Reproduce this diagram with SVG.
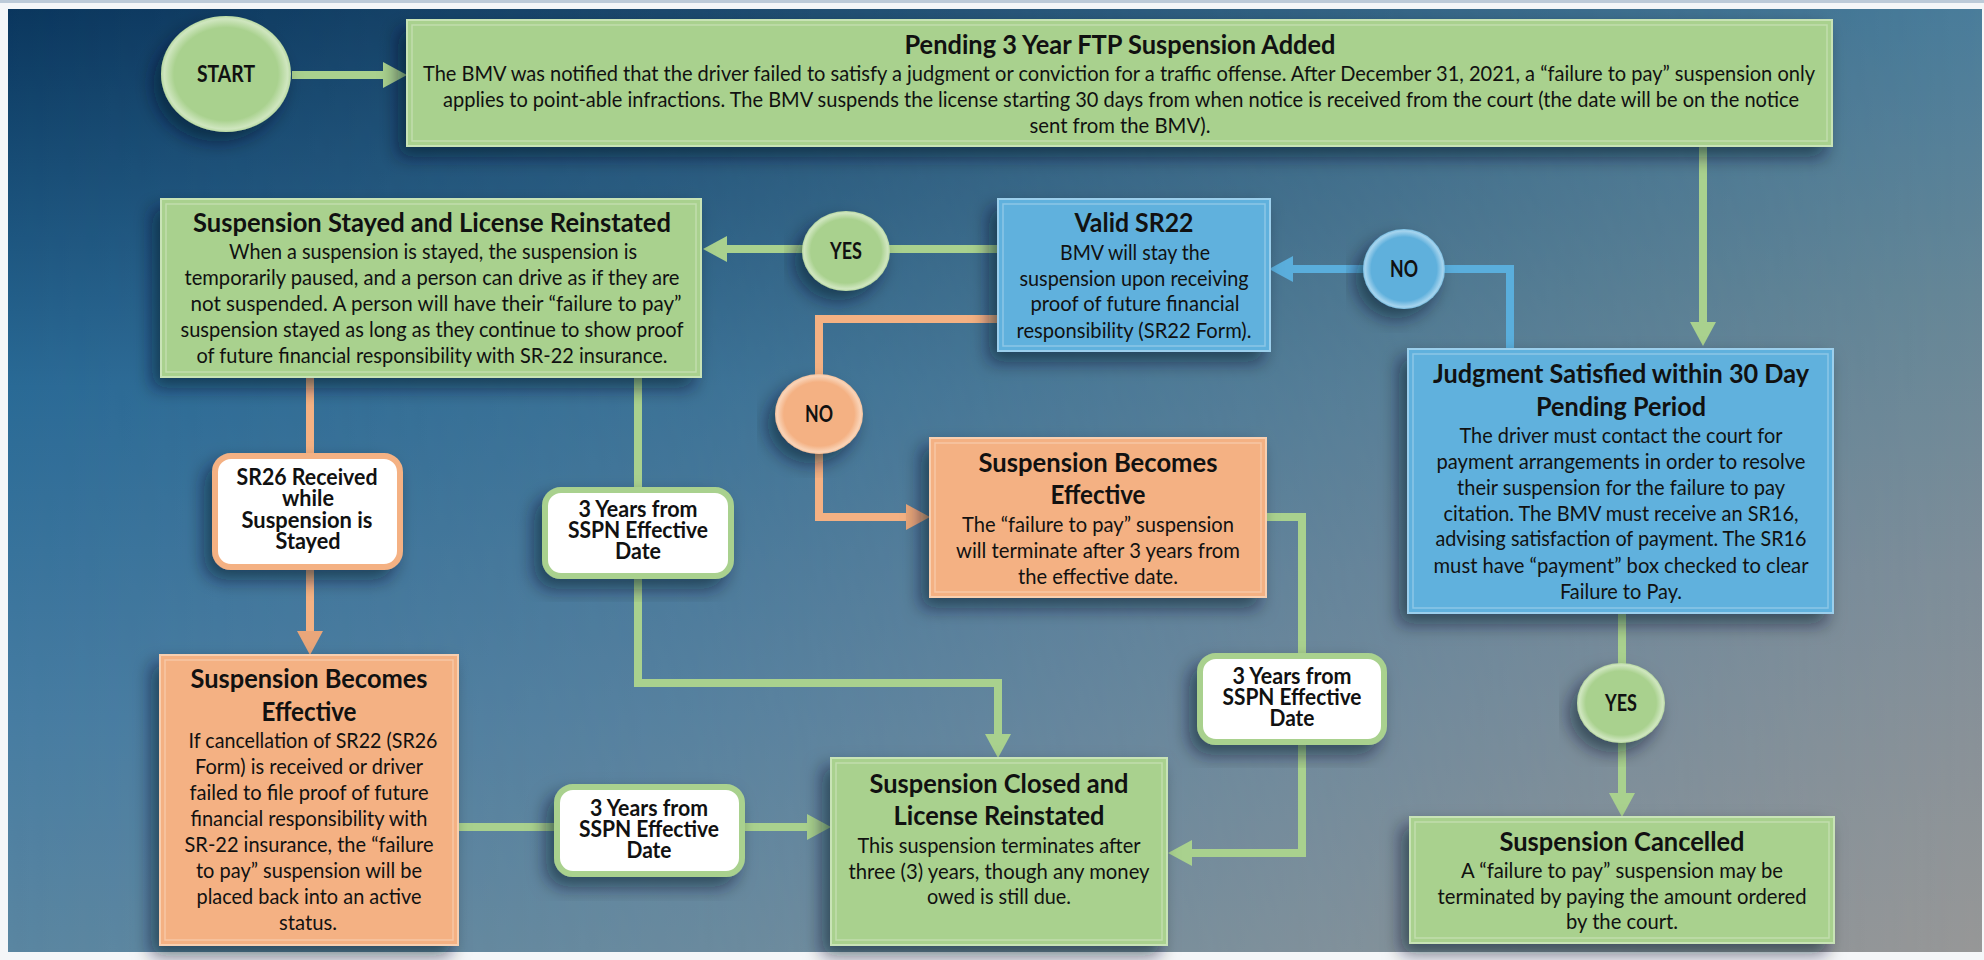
<svg xmlns="http://www.w3.org/2000/svg" width="1984" height="960" viewBox="0 0 1984 960">
<defs>
  <linearGradient id="bgL" x1="0" y1="0" x2="0" y2="1">
    <stop offset="0" stop-color="#0b375e"/>
    <stop offset="0.4" stop-color="#2a6a96"/>
    <stop offset="0.75" stop-color="#467ca2"/>
    <stop offset="1" stop-color="#5a86a1"/>
  </linearGradient>
  <linearGradient id="bgR" x1="0" y1="0" x2="0" y2="1">
    <stop offset="0" stop-color="#4a7d9b"/>
    <stop offset="0.3" stop-color="#668797"/>
    <stop offset="0.6" stop-color="#7f8e99"/>
    <stop offset="1" stop-color="#979797"/>
  </linearGradient>
  <linearGradient id="fadeX" x1="0" y1="0" x2="1" y2="0">
    <stop offset="0" stop-color="#000"/>
    <stop offset="0.35" stop-color="#444"/>
    <stop offset="1" stop-color="#fff"/>
  </linearGradient>
  <mask id="mx" maskUnits="userSpaceOnUse" x="0" y="0" width="1984" height="960">
    <rect x="0" y="0" width="1984" height="960" fill="url(#fadeX)"/>
  </mask>
  <radialGradient id="gGreen" cx="0.5" cy="0.5" r="0.5">
    <stop offset="0.8" stop-color="#a9d18e"/>
    <stop offset="0.95" stop-color="#cfe6bf"/>
    <stop offset="1" stop-color="#b8d9a2"/>
  </radialGradient>
  <radialGradient id="gBlue" cx="0.5" cy="0.5" r="0.5">
    <stop offset="0.8" stop-color="#5fb0dc"/>
    <stop offset="0.95" stop-color="#a6d4ee"/>
    <stop offset="1" stop-color="#7cc0e4"/>
  </radialGradient>
  <radialGradient id="gOrange" cx="0.5" cy="0.5" r="0.5">
    <stop offset="0.8" stop-color="#f4b183"/>
    <stop offset="0.95" stop-color="#f9d3b7"/>
    <stop offset="1" stop-color="#f6c19b"/>
  </radialGradient>
  <filter id="sh" x="-20%" y="-20%" width="140%" height="150%">
    <feDropShadow dx="-8" dy="10" stdDeviation="9" flood-color="#06182a" flood-opacity="0.55"/>
  </filter>
  <marker id="mG" markerUnits="userSpaceOnUse" markerWidth="24" markerHeight="26" viewBox="0 0 24 26" refX="0" refY="13" orient="auto">
    <path d="M0,0 L24,13 L0,26 Z" fill="#a9d18e"/>
  </marker>
  <marker id="mO" markerUnits="userSpaceOnUse" markerWidth="24" markerHeight="26" viewBox="0 0 24 26" refX="0" refY="13" orient="auto">
    <path d="M0,0 L24,13 L0,26 Z" fill="#e9a67a"/>
  </marker>
  <marker id="mB" markerUnits="userSpaceOnUse" markerWidth="24" markerHeight="26" viewBox="0 0 24 26" refX="0" refY="13" orient="auto">
    <path d="M0,0 L24,13 L0,26 Z" fill="#5aaedc"/>
  </marker>
</defs>
<style>
  text { font-family: Lato, "Liberation Sans", sans-serif; fill: #111; text-anchor: middle; }
  .t { font-size: 26px; font-weight: bold; }
  .b { font-size: 21px; }
  .l { font-size: 22px; font-weight: bold; }
  .box { filter: url(#sh); stroke-width: 2; }
  .green { fill: #a9d18e; stroke: #c8e3b6; }
  .blue { fill: #60b1dd; stroke: #9ccfec; }
  .orange { fill: #f4b183; stroke: #f8cfb0; }
  .bevel { fill: none; stroke: #ffffff; stroke-opacity: 0.28; stroke-width: 1.5; }
  .lab { fill: #ffffff; stroke-width: 6; filter: url(#sh); }
  .lg { stroke: #a9d18e; }
  .lo { stroke: #f4b183; }
  .con { fill: none; stroke-width: 8; stroke-linejoin: miter; }
  .cg { stroke: #a9d18e; }
  .co { stroke: #f4b183; }
  .cb { stroke: #5aaedc; }
</style>

<rect x="0" y="0" width="1984" height="960" fill="#f4f6f8"/>
<rect x="0" y="0" width="1984" height="3" fill="#bccad8"/>
<rect x="8" y="9" width="1974" height="943" fill="url(#bgL)"/>
<rect x="8" y="9" width="1974" height="943" fill="url(#bgR)" mask="url(#mx)"/>

<g id="connectors">
  <path class="con cg" d="M292,75 H383" marker-end="url(#mG)"/>
  <path class="con cg" d="M1703,146 V322" marker-end="url(#mG)"/>
  <path class="con cb" d="M1510,349 V269 H1293" marker-end="url(#mB)"/>
  <path class="con cg" d="M998,249 H727" marker-end="url(#mG)"/>
  <path class="con co" d="M998,319 H819 V517 H906" marker-end="url(#mO)"/>
  <path class="con co" d="M310,377 V631" marker-end="url(#mO)"/>
  <path class="con cg" d="M638,377 V683 H998 V734" marker-end="url(#mG)"/>
  <path class="con cg" d="M458,827 H807" marker-end="url(#mG)"/>
  <path class="con cg" d="M1266,517 H1302 V853 H1192" marker-end="url(#mG)"/>
  <path class="con cg" d="M1622,613 V793" marker-end="url(#mG)"/>
</g>

<g id="start">
  <ellipse cx="226" cy="74" rx="65" ry="58" fill="url(#gGreen)" filter="url(#sh)"/>
  <text class="l" x="226" y="82" textLength="58" lengthAdjust="spacingAndGlyphs">START</text>
</g>

<g id="pending">
  <rect class="box green" x="407" y="20" width="1425" height="126"/>
  <rect class="bevel" x="412" y="25" width="1415" height="116"/>
  <text class="t" x="1120" y="54" textLength="431" lengthAdjust="spacingAndGlyphs">Pending 3 Year FTP Suspension Added</text>
  <text class="b" x="1119" y="81" textLength="1392" lengthAdjust="spacingAndGlyphs">The BMV was notified that the driver failed to satisfy a judgment or conviction for a traffic offense. After December 31, 2021, a “failure to pay” suspension only</text>
  <text class="b" x="1121" y="107" textLength="1356" lengthAdjust="spacingAndGlyphs">applies to point-able infractions. The BMV suspends the license starting 30 days from when notice is received from the court (the date will be on the notice</text>
  <text class="b" x="1120" y="133" textLength="181" lengthAdjust="spacingAndGlyphs">sent from the BMV).</text>
</g>

<g id="stayed">
  <rect class="box green" x="161" y="199" width="540" height="178"/>
  <rect class="bevel" x="166" y="204" width="530" height="168"/>
  <text class="t" x="432" y="232" textLength="478" lengthAdjust="spacingAndGlyphs">Suspension Stayed and License Reinstated</text>
  <text class="b" x="433" y="259" textLength="408" lengthAdjust="spacingAndGlyphs">When a suspension is stayed, the suspension is</text>
  <text class="b" x="432" y="285" textLength="495" lengthAdjust="spacingAndGlyphs">temporarily paused, and a person can drive as if they are</text>
  <text class="b" x="436" y="311" textLength="491" lengthAdjust="spacingAndGlyphs">not suspended. A person will have their “failure to pay”</text>
  <text class="b" x="432" y="337" textLength="503" lengthAdjust="spacingAndGlyphs">suspension stayed as long as they continue to show proof</text>
  <text class="b" x="432" y="363" textLength="471" lengthAdjust="spacingAndGlyphs">of future financial responsibility with SR-22 insurance.</text>
</g>

<g id="yes-stay">
  <ellipse cx="846" cy="251" rx="44" ry="40" fill="url(#gGreen)" filter="url(#sh)"/>
  <text class="l" x="846" y="259" textLength="32" lengthAdjust="spacingAndGlyphs">YES</text>
</g>

<g id="valid-sr22">
  <rect class="box blue" x="998" y="199" width="272" height="152"/>
  <rect class="bevel" x="1003" y="204" width="262" height="142"/>
  <text class="t" x="1134" y="232" textLength="119" lengthAdjust="spacingAndGlyphs">Valid SR22</text>
  <text class="b" x="1135" y="260" textLength="150" lengthAdjust="spacingAndGlyphs">BMV will stay the</text>
  <text class="b" x="1134" y="286" textLength="229" lengthAdjust="spacingAndGlyphs">suspension upon receiving</text>
  <text class="b" x="1135" y="311" textLength="209" lengthAdjust="spacingAndGlyphs">proof of future financial</text>
  <text class="b" x="1134" y="338" textLength="235" lengthAdjust="spacingAndGlyphs">responsibility (SR22 Form).</text>
</g>

<g id="no-judgment">
  <ellipse cx="1404" cy="269" rx="41" ry="40" fill="url(#gBlue)" filter="url(#sh)"/>
  <text class="l" x="1404" y="277" textLength="28" lengthAdjust="spacingAndGlyphs">NO</text>
</g>

<g id="judgment">
  <rect class="box blue" x="1408" y="349" width="425" height="264"/>
  <rect class="bevel" x="1413" y="354" width="415" height="254"/>
  <text class="t" x="1621" y="383" textLength="376" lengthAdjust="spacingAndGlyphs">Judgment Satisfied within 30 Day</text>
  <text class="t" x="1621" y="416" textLength="170" lengthAdjust="spacingAndGlyphs">Pending Period</text>
  <text class="b" x="1621" y="443" textLength="323" lengthAdjust="spacingAndGlyphs">The driver must contact the court for</text>
  <text class="b" x="1621" y="469" textLength="369" lengthAdjust="spacingAndGlyphs">payment arrangements in order to resolve</text>
  <text class="b" x="1621" y="495" textLength="328" lengthAdjust="spacingAndGlyphs">their suspension for the failure to pay</text>
  <text class="b" x="1621" y="521" textLength="355" lengthAdjust="spacingAndGlyphs">citation. The BMV must receive an SR16,</text>
  <text class="b" x="1621" y="546" textLength="371" lengthAdjust="spacingAndGlyphs">advising satisfaction of payment. The SR16</text>
  <text class="b" x="1621" y="573" textLength="375" lengthAdjust="spacingAndGlyphs">must have “payment” box checked to clear</text>
  <text class="b" x="1621" y="599" textLength="122" lengthAdjust="spacingAndGlyphs">Failure to Pay.</text>
</g>

<g id="no-sr22">
  <ellipse cx="819" cy="414" rx="44" ry="40" fill="url(#gOrange)" filter="url(#sh)"/>
  <text class="l" x="819" y="422" textLength="28" lengthAdjust="spacingAndGlyphs">NO</text>
</g>

<g id="effective-mid">
  <rect class="box orange" x="930" y="438" width="336" height="159"/>
  <rect class="bevel" x="935" y="443" width="326" height="149"/>
  <text class="t" x="1098" y="472" textLength="239" lengthAdjust="spacingAndGlyphs">Suspension Becomes</text>
  <text class="t" x="1098" y="504" textLength="95" lengthAdjust="spacingAndGlyphs">Effective</text>
  <text class="b" x="1098" y="532" textLength="272" lengthAdjust="spacingAndGlyphs">The “failure to pay” suspension</text>
  <text class="b" x="1098" y="558" textLength="284" lengthAdjust="spacingAndGlyphs">will terminate after 3 years from</text>
  <text class="b" x="1098" y="584" textLength="160" lengthAdjust="spacingAndGlyphs">the effective date.</text>
</g>

<g id="sr26-label">
  <rect class="lab lo" x="215" y="456" width="185" height="111" rx="16"/>
  <text class="l" x="307" y="485" textLength="141" lengthAdjust="spacingAndGlyphs">SR26 Received</text>
  <text class="l" x="308" y="506" textLength="52" lengthAdjust="spacingAndGlyphs">while</text>
  <text class="l" x="307" y="528" textLength="131" lengthAdjust="spacingAndGlyphs">Suspension is</text>
  <text class="l" x="308" y="549" textLength="65" lengthAdjust="spacingAndGlyphs">Stayed</text>
</g>

<g id="years-label-1">
  <rect class="lab lg" x="545" y="490" width="186" height="86" rx="16"/>
  <text class="l" x="638" y="517" textLength="119" lengthAdjust="spacingAndGlyphs">3 Years from</text>
  <text class="l" x="638" y="538" textLength="140" lengthAdjust="spacingAndGlyphs">SSPN Effective</text>
  <text class="l" x="638" y="559" textLength="46" lengthAdjust="spacingAndGlyphs">Date</text>
</g>

<g id="effective-left">
  <rect class="box orange" x="160" y="655" width="298" height="290"/>
  <rect class="bevel" x="165" y="660" width="288" height="280"/>
  <text class="t" x="309" y="688" textLength="237" lengthAdjust="spacingAndGlyphs">Suspension Becomes</text>
  <text class="t" x="309" y="721" textLength="95" lengthAdjust="spacingAndGlyphs">Effective</text>
  <text class="b" x="313" y="748" textLength="249" lengthAdjust="spacingAndGlyphs">If cancellation of SR22 (SR26</text>
  <text class="b" x="309" y="774" textLength="228" lengthAdjust="spacingAndGlyphs">Form) is received or driver</text>
  <text class="b" x="309" y="800" textLength="239" lengthAdjust="spacingAndGlyphs">failed to file proof of future</text>
  <text class="b" x="309" y="826" textLength="237" lengthAdjust="spacingAndGlyphs">financial responsibility with</text>
  <text class="b" x="309" y="852" textLength="249" lengthAdjust="spacingAndGlyphs">SR-22 insurance, the “failure</text>
  <text class="b" x="309" y="878" textLength="226" lengthAdjust="spacingAndGlyphs">to pay” suspension will be</text>
  <text class="b" x="309" y="904" textLength="225" lengthAdjust="spacingAndGlyphs">placed back into an active</text>
  <text class="b" x="308" y="930" textLength="58" lengthAdjust="spacingAndGlyphs">status.</text>
</g>

<g id="years-label-2">
  <rect class="lab lg" x="557" y="787" width="185" height="87" rx="16"/>
  <text class="l" x="649" y="816" textLength="118" lengthAdjust="spacingAndGlyphs">3 Years from</text>
  <text class="l" x="649" y="837" textLength="140" lengthAdjust="spacingAndGlyphs">SSPN Effective</text>
  <text class="l" x="649" y="858" textLength="45" lengthAdjust="spacingAndGlyphs">Date</text>
</g>

<g id="closed">
  <rect class="box green" x="831" y="758" width="336" height="187"/>
  <rect class="bevel" x="836" y="763" width="326" height="177"/>
  <text class="t" x="999" y="793" textLength="259" lengthAdjust="spacingAndGlyphs">Suspension Closed and</text>
  <text class="t" x="999" y="825" textLength="211" lengthAdjust="spacingAndGlyphs">License Reinstated</text>
  <text class="b" x="999" y="853" textLength="283" lengthAdjust="spacingAndGlyphs">This suspension terminates after</text>
  <text class="b" x="999" y="879" textLength="301" lengthAdjust="spacingAndGlyphs">three (3) years, though any money</text>
  <text class="b" x="999" y="904" textLength="144" lengthAdjust="spacingAndGlyphs">owed is still due.</text>
</g>

<g id="years-label-3">
  <rect class="lab lg" x="1200" y="656" width="184" height="86" rx="16"/>
  <text class="l" x="1292" y="684" textLength="119" lengthAdjust="spacingAndGlyphs">3 Years from</text>
  <text class="l" x="1292" y="705" textLength="139" lengthAdjust="spacingAndGlyphs">SSPN Effective</text>
  <text class="l" x="1292" y="726" textLength="45" lengthAdjust="spacingAndGlyphs">Date</text>
</g>

<g id="yes-judgment">
  <ellipse cx="1621" cy="703" rx="44" ry="40" fill="url(#gGreen)" filter="url(#sh)"/>
  <text class="l" x="1621" y="711" textLength="32" lengthAdjust="spacingAndGlyphs">YES</text>
</g>

<g id="cancelled">
  <rect class="box green" x="1410" y="817" width="424" height="126"/>
  <rect class="bevel" x="1415" y="822" width="414" height="116"/>
  <text class="t" x="1622" y="851" textLength="245" lengthAdjust="spacingAndGlyphs">Suspension Cancelled</text>
  <text class="b" x="1622" y="878" textLength="322" lengthAdjust="spacingAndGlyphs">A “failure to pay” suspension may be</text>
  <text class="b" x="1622" y="904" textLength="369" lengthAdjust="spacingAndGlyphs">terminated by paying the amount ordered</text>
  <text class="b" x="1622" y="929" textLength="112" lengthAdjust="spacingAndGlyphs">by the court.</text>
</g>
</svg>
